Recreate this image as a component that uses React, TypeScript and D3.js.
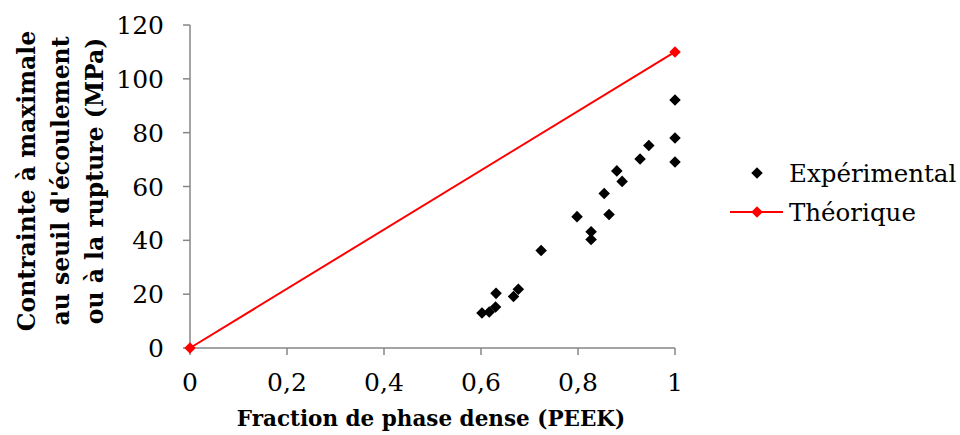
import React from "react";
import * as d3 from "d3";

const expX = [0.602, 0.617, 0.630, 0.631, 0.667, 0.677, 0.724, 0.798, 0.827, 0.827, 0.854, 0.864, 0.880, 0.891, 0.928, 0.946, 1, 1, 1];
const expY = [13.0, 13.4, 15.2, 20.3, 19.1, 21.8, 36.2, 48.8, 43.2, 40.3, 57.4, 49.6, 65.8, 61.9, 70.2, 75.2, 92.1, 78.0, 69.1];
const theoX = [0, 1];
const theoY = [0, 110];
const xTicks = [0, 0.2, 0.4, 0.6, 0.8, 1];
const yTicks = [0, 20, 40, 60, 80, 100, 120];
const seriesNames = ["Expérimental", "Théorique"];
const xTitle = "Fraction de phase dense (PEEK)";
const yTitleLines = ["Contrainte à maximale", "au seuil d'écoulement", "ou à la rupture (MPa)"];

export default function App() {
  const W = 960, H = 435;
  const x = d3.scaleLinear().domain([0, 1]).range([190, 675]);
  const y = d3.scaleLinear().domain([0, 120]).range([348, 25]);
  const axisColor = "#868686";
  const serif = "'DejaVu Serif', serif";
  const diamond = d3.symbol().type(d3.symbolDiamond2).size(85)() as string;
  const line = d3.line<number>().x((d, i) => x(theoX[i])).y((d) => y(d));
  const fmt = (v: number) => String(v).replace(".", ",");
  return (
    <svg width={W} height={H} style={{ position: "absolute", left: 0, top: 0, background: "#fff" }}>
      {/* axes */}
      <line x1={x(0)} x2={x(0)} y1={y(0)} y2={y(120)} stroke={axisColor} strokeWidth={1.5} />
      <line x1={x(0)} x2={x(1)} y1={y(0)} y2={y(0)} stroke={axisColor} strokeWidth={1.5} />
      {yTicks.map((t) => (
        <g key={"y" + t}>
          <line x1={x(0) - 7} x2={x(0)} y1={y(t)} y2={y(t)} stroke={axisColor} strokeWidth={1.5} />
          <text x={164} y={y(t)} dy="0.36em" textAnchor="end" fontFamily={serif} fontSize={25} fill="#000">{t}</text>
        </g>
      ))}
      {xTicks.map((t) => (
        <g key={"x" + t}>
          <line x1={x(t)} x2={x(t)} y1={y(0)} y2={y(0) + 7} stroke={axisColor} strokeWidth={1.5} />
          <text x={x(t)} y={391} textAnchor="middle" fontFamily={serif} fontSize={25} fill="#000">{fmt(t)}</text>
        </g>
      ))}
      {/* titles */}
      <text x={431} y={426} textAnchor="middle" fontFamily={serif} fontWeight="bold" fontSize={21.5} fill="#000">{xTitle}</text>
      {yTitleLines.map((l, i) => (
        <text key={l} transform={`translate(${35 + i * 34},181) rotate(-90)`} textAnchor="middle" fontFamily={serif} fontWeight="bold" fontSize={23.5} fill="#000">{l}</text>
      ))}
      {/* theoretical line */}
      <path d={line(theoY) as string} fill="none" stroke="#ff0000" strokeWidth={2} />
      {theoY.map((v, i) => (
        <path key={"t" + i} d={diamond} transform={`translate(${x(theoX[i])},${y(v)})`} fill="#ff0000" />
      ))}
      {/* experimental points */}
      {expY.map((v, i) => (
        <path key={"e" + i} d={diamond} transform={`translate(${x(expX[i])},${y(v)})`} fill="#000" />
      ))}
      {/* legend */}
      <path d={diamond} transform="translate(757,173)" fill="#000" />
      <text x={789} y={173} dy="0.36em" fontFamily={serif} fontSize={24.5} fill="#000">{seriesNames[0]}</text>
      <line x1={730} x2={783} y1={212} y2={212} stroke="#ff0000" strokeWidth={2} />
      <path d={diamond} transform="translate(757,212)" fill="#ff0000" />
      <text x={789} y={212} dy="0.36em" fontFamily={serif} fontSize={24.5} fill="#000">{seriesNames[1]}</text>
    </svg>
  );
}
